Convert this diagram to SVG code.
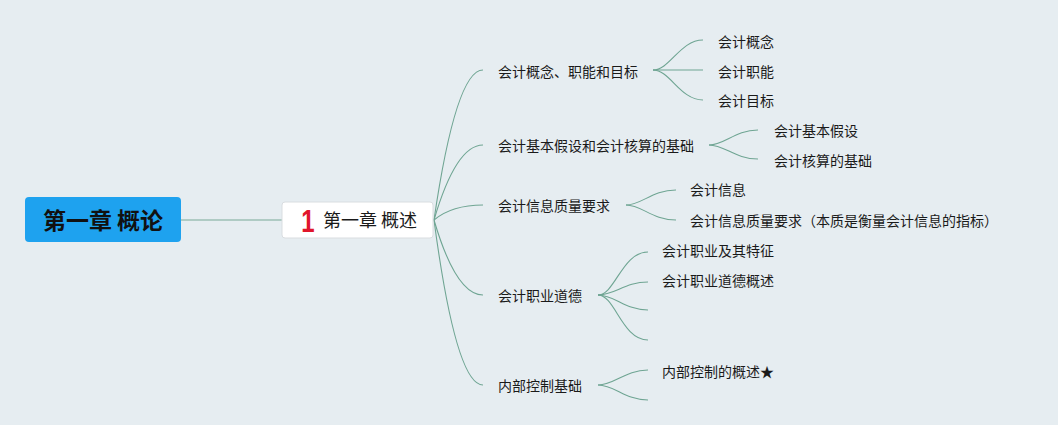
<svg xmlns="http://www.w3.org/2000/svg" width="1058" height="425" viewBox="0 0 1058 425">
<style>
.t{font-family:"Noto Sans CJK SC","Noto Sans",sans-serif;font-size:14px;fill:#1a1a1a}
.c{fill:none;stroke:#6fa593;stroke-width:1.1}
</style>
<rect width="1058" height="425" fill="#e6edf1"/>
<g id="connectors">
<line x1="181" y1="220" x2="282" y2="220" stroke="#9dbfb5" stroke-width="1.6"/>
<path class="c" d="M434,220 Q456,70 483,70"/>
<path class="c" d="M434,220 Q456,145 483,145"/>
<path class="c" d="M434,220 Q452,205 483,205"/>
<path class="c" d="M434,220 Q456,295 483,295"/>
<path class="c" d="M434,220 Q456,385 483,385"/>
<path class="c" d="M653,70 C670,70 680,40 703,40"/>
<path class="c" d="M653,70 L703,70"/>
<path class="c" d="M653,70 C670,70 680,100 703,100"/>
<path class="c" d="M709,145 C725,145 735,130 758,130"/>
<path class="c" d="M709,145 C725,145 735,159 758,159"/>
<path class="c" d="M626,205 C642,205 652,190 676,190"/>
<path class="c" d="M626,205 C642,205 652,220 676,220"/>
<path class="c" d="M598,295 C615,295 622,252 648,252"/>
<path class="c" d="M598,295 C615,295 625,282 648,282"/>
<path class="c" d="M598,295 C615,295 625,310 648,310"/>
<path class="c" d="M598,295 C615,295 622,340 648,340"/>
<path class="c" d="M598,385 C615,385 625,370 648,370"/>
<path class="c" d="M598,385 C615,385 625,400 648,400"/>
</g>
<g id="root">
<rect x="25" y="197" width="156" height="45" rx="4" fill="#1ea2ef"/>
<text x="103" y="229" text-anchor="middle" font-family="'Noto Sans CJK SC',sans-serif" font-size="23" font-weight="bold" fill="#111">第一章 概论</text>
</g>
<g id="chapter">
<rect x="282" y="202" width="151" height="36" rx="3" fill="#fff" stroke="#d9dde0"/>
<text transform="translate(308,232) scale(0.75,1)" text-anchor="middle" font-family="'Liberation Sans',sans-serif" font-size="32" font-weight="bold" fill="#e0162b">1</text>
<text x="323" y="227" font-family="'Noto Sans CJK SC',sans-serif" font-size="18" fill="#1a1a1a">第一章 概述</text>
</g>
<g id="n1"><text class="t" x="498" y="77">会计概念、职能和目标</text></g>
<g id="n1a"><text class="t" x="718" y="47">会计概念</text></g>
<g id="n1b"><text class="t" x="718" y="77">会计职能</text></g>
<g id="n1c"><text class="t" x="718" y="106">会计目标</text></g>
<g id="n2"><text class="t" x="498" y="151">会计基本假设和会计核算的基础</text></g>
<g id="n2a"><text class="t" x="774" y="136">会计基本假设</text></g>
<g id="n2b"><text class="t" x="774" y="166">会计核算的基础</text></g>
<g id="n3"><text class="t" x="498" y="211">会计信息质量要求</text></g>
<g id="n3a"><text class="t" x="690" y="195">会计信息</text></g>
<g id="n3b"><text class="t" x="690" y="226">会计信息质量要求（本质是衡量会计信息的指标）</text></g>
<g id="n4"><text class="t" x="498" y="301">会计职业道德</text></g>
<g id="n4a"><text class="t" x="662" y="256">会计职业及其特征</text></g>
<g id="n4b"><text class="t" x="662" y="286">会计职业道德概述</text></g>
<g id="n5"><text class="t" x="498" y="391">内部控制基础</text></g>
<g id="n5a"><text class="t" x="662" y="377">内部控制的概述★</text></g>
</svg>
